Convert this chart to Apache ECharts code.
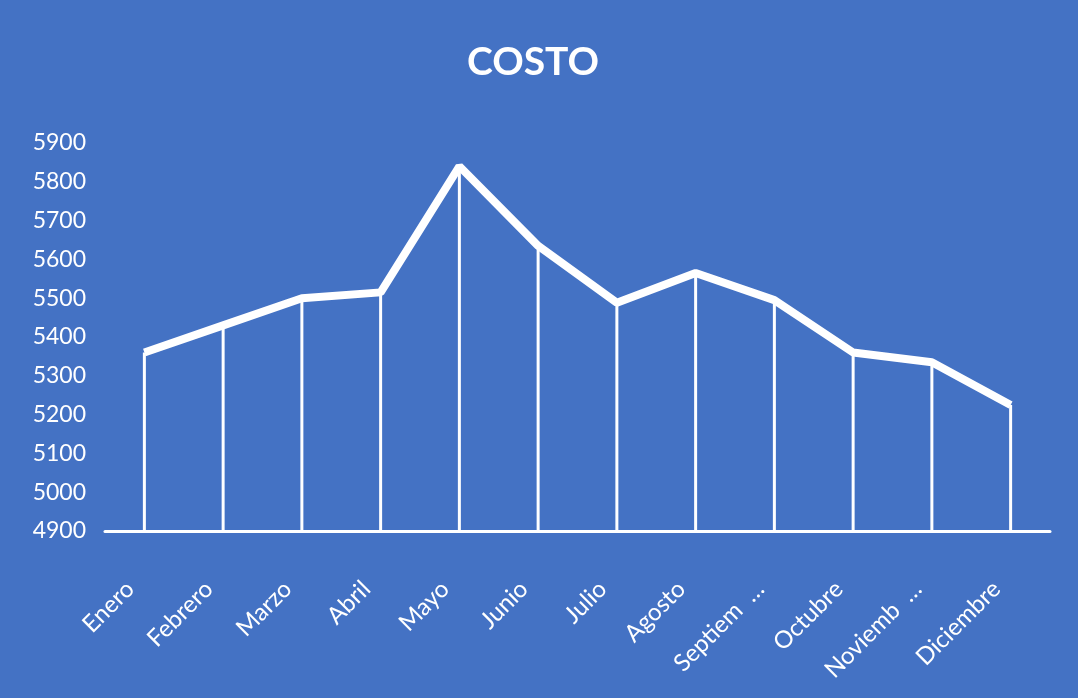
<!DOCTYPE html>
<html>
<head>
<meta charset="utf-8">
<title>COSTO</title>
<script src="https://cdn.jsdelivr.net/npm/echarts@6/dist/echarts.min.js"></script>
<style>
  html, body { margin: 0; padding: 0; background: #4472C4; }
  #chart { width: 1078px; height: 698px; }
</style>
</head>
<body>
<div id="chart"></div>
<script>
// Monthly cost figures
const months = ['Enero', 'Febrero', 'Marzo', 'Abril', 'Mayo', 'Junio', 'Julio',
  'Agosto', 'Septiembre', 'Octubre', 'Noviembre', 'Diciembre'];
const tickLabels = ['Enero', 'Febrero', 'Marzo', 'Abril', 'Mayo', 'Junio', 'Julio',
  'Agosto', 'Septiem  …', 'Octubre', 'Noviemb  …', 'Diciembre'];
const costo = [5360, 5430, 5500, 5515, 5840, 5635, 5488, 5565, 5495, 5360, 5335, 5225];
const yMin = 4900;
const yMax = 5900;
const yStep = 100;

const chart = echarts.init(document.getElementById('chart'));
chart.setOption({
  animation: false,
  backgroundColor: '#4472C4',
  title: {
    text: 'COSTO',
    left: 528,
    top: 38,
    textAlign: 'center',
    textStyle: { color: '#ffffff', fontFamily: 'Lato', fontWeight: 'bold', fontSize: 39 }
  },
  grid: { left: 105, right: 28, top: 143, bottom: 167, containLabel: false },
  xAxis: {
    type: 'category',
    data: months,
    axisLine: { lineStyle: { color: '#ffffff', width: 3 } },
    axisTick: { show: false },
    axisLabel: {
      rotate: 45,
      margin: 40,
      interval: 0,
      color: '#ffffff',
      fontFamily: 'Lato',
      fontSize: 24,
      padding: [0, 20, 0, 0],
      formatter: (v, i) => tickLabels[i]
    }
  },
  yAxis: {
    type: 'value',
    min: yMin,
    max: yMax,
    interval: yStep,
    splitLine: { show: false },
    axisLine: { show: false },
    axisTick: { show: false },
    axisLabel: {
      color: '#ffffff',
      fontFamily: 'Lato',
      fontSize: 23,
      margin: 19,
      formatter: (v) => String(v)
    }
  },
  series: [
    {
      // drop lines from each point down to the axis
      type: 'bar',
      data: costo,
      barWidth: 3,
      itemStyle: { color: '#ffffff' },
      z: 1
    },
    {
      type: 'line',
      data: costo,
      showSymbol: false,
      symbol: 'none',
      lineStyle: { color: '#ffffff', width: 8 },
      z: 3
    }
  ]
});
</script>
</body>
</html>
